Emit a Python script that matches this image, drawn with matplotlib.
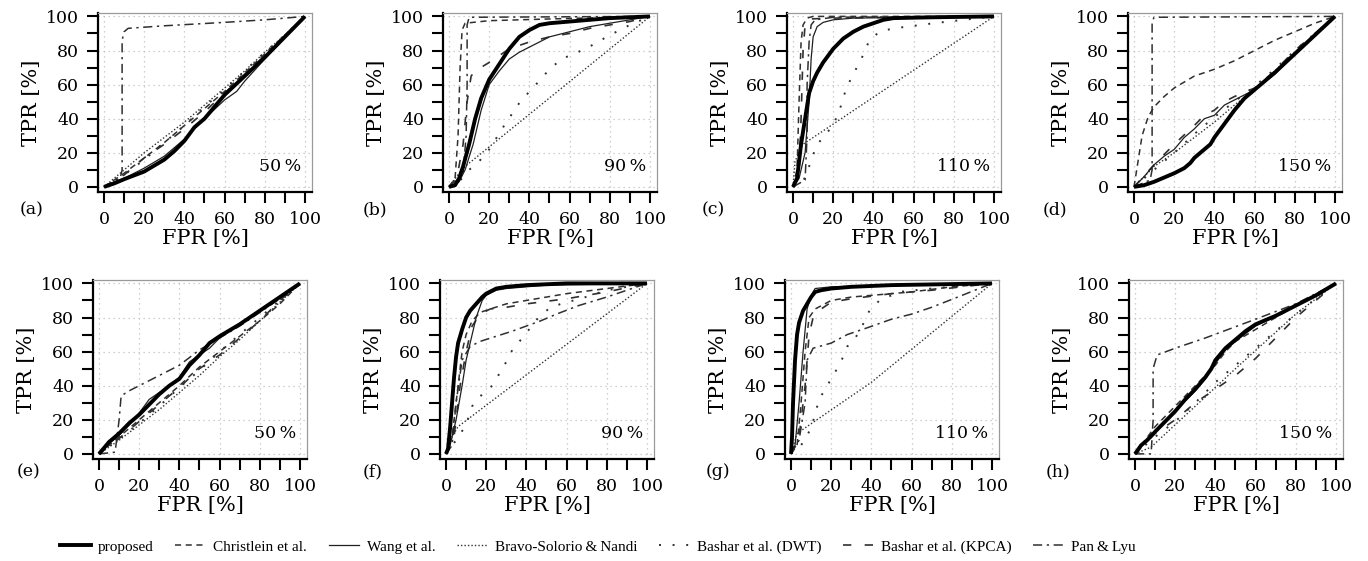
import matplotlib
matplotlib.use("Agg")
import matplotlib.pyplot as plt
from matplotlib.lines import Line2D

# ROC curves, points are (FPR %, TPR %)
# (a) 50 %
prop_a = [(0, 0), (5, 2), (10, 4.5), (20, 9), (30, 16), (35, 21), (40, 27), (45, 35), (50, 40), (55, 47), (60, 54), (70, 65), (80, 76), (90, 88), (100, 100)]
chr_a = [(0, 0), (5, 4), (10, 8), (20, 17), (30, 26), (40, 36), (50, 46), (60, 56), (70, 67), (80, 78), (90, 89), (100, 100)]
wang_a = [(0, 0), (5, 3), (10, 5), (20, 11), (30, 18), (40, 28), (50, 40), (60, 51), (66, 56), (70, 62), (80, 75), (90, 88), (100, 100)]
bravo_a = [(0, 0), (10, 10), (20, 20), (30, 29), (40, 38), (50, 48), (60, 58), (70, 68), (80, 79), (90, 89), (100, 100)]
dwt_a = [(0, 0), (10, 7), (20, 16), (30, 26), (40, 36), (50, 47), (60, 57), (70, 68), (80, 79), (90, 89), (100, 100)]
kpca_a = [(0, 0), (10, 7), (20, 17), (30, 25), (40, 34), (50, 44), (60, 55), (70, 66), (80, 77), (90, 88), (100, 100)]
pan_a = [(0, 0), (8, 5), (9, 10), (9, 86), (10, 91), (12, 93), (30, 94.5), (60, 96.5), (80, 98), (100, 100)]

# (b) 90 %
prop_b = [(0, 0), (3, 1), (5, 5), (7, 12), (10, 25), (13, 40), (16, 52), (20, 63), (25, 72), (30, 81), (35, 88), (40, 92), (45, 95), (50, 96), (60, 97), (70, 98), (80, 99), (100, 100)]
chr_b = [(0, 0), (3, 5), (4.5, 30), (5.5, 70), (6.5, 92), (8, 96), (20, 97.5), (50, 98.5), (100, 100)]
wang_b = [(0, 0), (5, 3), (8, 10), (12, 25), (16, 45), (20, 60), (25, 68), (30, 75), (35, 79), (40, 82), (50, 88), (60, 91), (70, 94), (80, 96), (90, 98), (100, 100)]
bravo_b = [(0, 0), (5, 8), (8, 12), (100, 100)]
dwt_b = [(0, 0), (5, 3), (10, 10), (15, 15), (20, 22), (28, 37), (36, 51), (41, 57), (50, 69), (56, 75), (68, 81), (80, 89), (90, 95), (100, 100)]
kpca_b = [(0, 0), (4, 6), (7, 25), (9, 50), (11, 65), (13, 68), (20, 73), (30, 81), (40, 85), (50, 88), (60, 90), (70, 93), (80, 95), (90, 97), (100, 100)]
pan_b = [(0, 0), (7, 8), (8.5, 30), (9, 60), (9, 95), (10, 99.5), (100, 100)]

# (c) 110 %
prop_c = [(0, 0), (2, 5), (4, 25), (6, 40), (8, 55), (10, 62), (12, 67), (15, 73), (20, 81), (25, 87), (30, 91), (35, 94), (40, 96), (45, 98), (50, 99), (70, 99.5), (100, 100)]
chr_c = [(0, 0), (2, 10), (3, 50), (4, 85), (5, 95), (7, 99), (10, 100), (100, 100)]
wang_c = [(0, 0), (3, 5), (6, 20), (8, 50), (9, 75), (10, 88), (12, 94), (15, 96.5), (20, 98), (30, 99), (100, 100)]
bravo_c = [(0, 0), (1, 15), (5, 25), (100, 100)]
dwt_c = [(0, 0), (5, 3), (8, 12), (11, 22), (14, 28), (20, 36), (24, 48), (26, 56), (29, 64), (34, 75), (38, 86), (43, 91), (50, 93), (57, 94), (70, 96), (85, 98), (100, 100)]
kpca_c = [(0, 0), (3, 8), (4, 40), (5, 80), (6, 95), (8, 98.5), (20, 99), (50, 99.5), (100, 100)]
pan_c = [(0, 0), (6, 4), (7, 30), (7, 60), (8, 85), (9, 95), (11, 98), (20, 99.5), (100, 100)]

# (d) 150 %
prop_d = [(0, 0), (5, 1), (10, 3), (20, 8), (25, 11), (28, 14), (30, 17), (35, 22), (38, 25), (40, 29), (45, 37), (50, 45), (55, 52), (60, 57), (70, 67), (80, 78), (90, 89), (100, 100)]
chr_d = [(0, 0), (2, 15), (4, 30), (7, 41), (10, 47), (15, 53), (20, 58), (30, 65), (40, 69), (50, 74), (60, 80), (70, 86), (80, 91), (90, 96), (100, 100)]
wang_d = [(0, 0), (5, 6), (10, 13), (15, 18), (20, 22), (25, 29), (30, 34), (35, 40), (40, 42), (45, 48), (50, 51), (60, 57), (70, 66), (80, 78), (90, 89), (100, 100)]
bravo_d = [(0, 0), (10, 12), (20, 20), (30, 29), (40, 38), (50, 48), (60, 57), (70, 68), (80, 79), (90, 89), (100, 100)]
dwt_d = [(0, 0), (10, 10), (20, 20), (30, 31), (40, 41), (50, 50), (60, 59), (70, 69), (80, 80), (90, 90), (100, 100)]
kpca_d = [(0, 0), (10, 13), (20, 25), (30, 36), (35, 42), (40, 45), (45, 50), (50, 53), (60, 58), (70, 68), (80, 80), (90, 90), (100, 100)]
pan_d = [(0, 0), (8, 4), (9, 10), (9, 97), (10, 99.5), (100, 100)]

# (e) 50 %
prop_e = [(0, 0), (5, 7), (10, 12), (15, 18), (20, 23), (25, 29), (30, 35), (35, 40), (40, 44), (45, 52), (50, 58), (55, 65), (60, 69), (70, 76), (80, 84), (90, 92), (100, 100)]
chr_e = [(0, 0), (10, 10), (20, 20), (30, 30), (40, 40), (50, 51), (60, 60), (70, 69), (80, 78), (90, 88), (100, 100)]
wang_e = [(0, 0), (5, 6), (10, 11), (15, 17), (20, 24), (25, 32), (30, 36), (35, 40), (40, 45), (45, 54), (50, 58), (55, 62), (60, 68), (70, 76), (80, 84), (90, 92), (100, 100)]
bravo_e = [(0, 0), (10, 8), (20, 17), (30, 26), (40, 36), (50, 46), (60, 57), (70, 67), (80, 78), (90, 89), (100, 100)]
dwt_e = [(0, 0), (10, 9), (20, 18), (30, 28), (40, 39), (50, 49), (60, 60), (70, 70), (80, 80), (90, 90), (100, 100)]
kpca_e = [(0, 0), (10, 9), (20, 19), (30, 29), (40, 39), (50, 50), (60, 58), (70, 68), (80, 78), (90, 90), (100, 100)]
pan_e = [(0, 0), (8, 1), (10, 20), (11, 34), (15, 37), (20, 40), (30, 46), (40, 52), (50, 61), (60, 68), (70, 75), (80, 83), (90, 91), (100, 100)]

# (f) 90 %
prop_f = [(0, 0), (1, 3), (2, 15), (3, 30), (4, 45), (5, 57), (6, 65), (8, 73), (10, 80), (12, 84), (15, 88), (18, 92), (20, 94), (25, 97), (30, 98), (40, 99), (60, 100), (100, 100)]
chr_f = [(0, 0), (3, 10), (6, 40), (8, 60), (10, 70), (13, 78), (17, 83), (22, 85), (30, 88), (40, 90), (50, 92), (60, 94), (80, 97), (100, 100)]
wang_f = [(0, 0), (2, 5), (5, 20), (8, 40), (10, 55), (13, 70), (15, 80), (18, 90), (20, 93), (25, 96), (30, 97), (50, 99), (100, 100)]
bravo_f = [(0, 0), (3, 10), (6, 16), (100, 100)]
dwt_f = [(0, 0), (5, 8), (10, 17), (13, 28), (18, 35), (23, 40), (26, 46), (30, 54), (33, 61), (38, 68), (42, 74), (46, 80), (52, 86), (60, 89), (67, 91), (72, 93), (80, 96), (90, 98), (100, 100)]
kpca_f = [(0, 0), (4, 10), (7, 40), (10, 60), (13, 75), (17, 82), (22, 85), (30, 86), (40, 88), (60, 91), (80, 95), (100, 100)]
pan_f = [(0, 0), (3, 5), (5, 30), (8, 55), (12, 63), (17, 66), (25, 69), (33, 72), (40, 75), (47, 78), (55, 82), (66, 87), (80, 92), (90, 96), (100, 100)]

# (g) 110 %
prop_g = [(0, 0), (0.5, 10), (1, 30), (2, 55), (3, 70), (4, 77), (6, 84), (8, 88), (10, 92), (12, 95), (15, 96), (20, 97), (30, 98), (50, 99), (100, 100)]
chr_g = [(0, 0), (3, 5), (5, 30), (7, 60), (9, 80), (12, 85), (20, 90), (30, 92), (40, 93), (60, 95), (80, 98), (100, 100)]
wang_g = [(0, 0), (2, 5), (4, 30), (6, 60), (8, 85), (10, 93), (12, 97), (20, 98), (100, 100)]
bravo_g = [(0, 0), (3, 12), (40, 42), (100, 100)]
dwt_g = [(0, 0), (5, 5), (10, 15), (14, 32), (18, 40), (22, 48), (26, 57), (28, 63), (32, 68), (35, 74), (39, 84), (44, 90), (54, 95), (70, 97), (85, 98.5), (100, 100)]
kpca_g = [(0, 0), (4, 10), (7, 40), (9, 70), (11, 80), (15, 85), (20, 89), (30, 91), (50, 94), (70, 96), (85, 98), (100, 100)]
pan_g = [(0, 0), (4, 8), (7, 30), (8, 55), (11, 62), (20, 65), (28, 70), (38, 74), (50, 79), (60, 82), (70, 86), (83, 92), (100, 100)]

# (h) 150 %
prop_h = [(0, 0), (3, 5), (6, 8), (10, 13), (15, 19), (20, 25), (25, 32), (30, 38), (35, 45), (38, 50), (40, 55), (45, 62), (50, 67), (55, 72), (60, 76), (70, 81), (80, 87), (90, 93), (100, 100)]
chr_h = [(0, 0), (5, 8), (10, 16), (20, 28), (30, 40), (40, 52), (45, 60), (50, 66), (60, 73), (70, 80), (80, 87), (90, 93), (100, 100)]
wang_h = [(0, 0), (5, 7), (10, 13), (20, 25), (25, 31), (30, 37), (35, 44), (40, 53), (45, 61), (50, 66), (60, 75), (70, 81), (80, 87), (90, 93), (100, 100)]
bravo_h = [(0, 0), (8, 4), (30, 28), (50, 50), (80, 82), (100, 100)]
dwt_h = [(0, 0), (10, 10), (20, 19), (30, 30), (40, 42), (50, 52), (60, 62), (70, 72), (80, 82), (90, 91), (100, 100)]
kpca_h = [(0, 0), (10, 12), (20, 20), (30, 30), (40, 38), (50, 46), (60, 56), (70, 68), (80, 80), (90, 90), (100, 100)]
pan_h = [(0, 0), (8, 0), (9, 20), (9, 50), (11, 58), (20, 62), (35, 68), (60, 79), (80, 88), (100, 100)]

methods = ["proposed", "Christlein et al.", "Wang et al.", "Bravo-Solorio\u2009&\u2009Nandi",
           "Bashar et al. (DWT)", "Bashar et al. (KPCA)", "Pan\u2009&\u2009Lyu"]
letters = ["(a)", "(b)", "(c)", "(d)", "(e)", "(f)", "(g)", "(h)"]
ratios = ["50", "90", "110", "150", "50", "90", "110", "150"]
curves = [
    [prop_a, chr_a, wang_a, bravo_a, dwt_a, kpca_a, pan_a],
    [prop_b, chr_b, wang_b, bravo_b, dwt_b, kpca_b, pan_b],
    [prop_c, chr_c, wang_c, bravo_c, dwt_c, kpca_c, pan_c],
    [prop_d, chr_d, wang_d, bravo_d, dwt_d, kpca_d, pan_d],
    [prop_e, chr_e, wang_e, bravo_e, dwt_e, kpca_e, pan_e],
    [prop_f, chr_f, wang_f, bravo_f, dwt_f, kpca_f, pan_f],
    [prop_g, chr_g, wang_g, bravo_g, dwt_g, kpca_g, pan_g],
    [prop_h, chr_h, wang_h, bravo_h, dwt_h, kpca_h, pan_h],
]

styles = [
    dict(color="black", lw=2.8, ls="-", zorder=5),
    dict(color="#303030", lw=1.1, dashes=(4, 3), zorder=4),
    dict(color="#202020", lw=0.9, ls="-", zorder=4),
    dict(color="#303030", lw=1.0, dashes=(1, 1.5), zorder=3),
    dict(color="#303030", lw=1.4, dashes=(1, 6), zorder=3),
    dict(color="#303030", lw=1.2, dashes=(5, 8), zorder=3),
    dict(color="#303030", lw=1.1, dashes=(6, 3, 1.5, 3), zorder=3),
]

W, H = 1368, 561
fig = plt.figure(figsize=(W / 100, H / 100), dpi=100)

# pixel position of x=0 for each panel and bottom edge of each row
x0_px = [104, 449, 793, 1134, 99, 446, 791, 1135]
row_bottom = [192, 459]
letter_px = [(32, 210), (375, 210), (713, 210), (1055, 210), (29, 472), (373, 472), (718, 472), (1058, 472)]
ax_w, ax_h = 214, 179
serif = "DejaVu Serif"

for i in range(8):
    left = x0_px[i] - 6
    bottom = row_bottom[i // 4]
    ax = fig.add_axes([left / W, (H - bottom) / H, ax_w / W, ax_h / H])
    ax.set_xlim(-3, 103.5)
    ax.set_ylim(-3, 102)

    for pts, st in zip(curves[i], styles):
        xs = [p[0] for p in pts]
        ys = [p[1] for p in pts]
        ax.plot(xs, ys, solid_capstyle="butt", dash_capstyle="butt", **st)

    ax.set_xticks(range(0, 101, 20))
    ax.set_yticks(range(0, 101, 20))
    ax.set_xticks(range(10, 100, 20), minor=True)
    ax.set_yticks(range(10, 100, 20), minor=True)
    ax.grid(True, which="major", color="#c0c0c0", lw=0.9, ls=(0, (1, 3)))
    ax.tick_params(which="both", direction="out", length=8, width=1.5, color="black",
                   labelsize=12.5, pad=5.5)
    for lab in ax.get_xticklabels() + ax.get_yticklabels():
        lab.set_fontfamily(serif)

    for side in ["top", "right"]:
        ax.spines[side].set_color("#9a9a9a")
        ax.spines[side].set_linewidth(0.9)
    for side in ["left", "bottom"]:
        ax.spines[side].set_color("black")
        ax.spines[side].set_linewidth(1.6)

    ax.set_xlabel("FPR [%]", fontsize=15, family=serif, labelpad=1)
    ax.set_ylabel("TPR [%]", fontsize=15, family=serif, labelpad=4)
    ax.text(98, 12, ratios[i] + "\u2009%", ha="right", va="center", fontsize=12.5, family=serif, zorder=6)

    lx, ly = letter_px[i]
    fig.text(lx / W, (H - ly) / H, letters[i], ha="center", va="center", fontsize=12.5, family=serif)

handles = [Line2D([], [], **{k: v for k, v in st.items() if k != "zorder"}) for st in styles]
fig.legend(handles, methods, loc="center", bbox_to_anchor=(598 / W, (H - 547) / H), ncol=7,
           frameon=False, prop={"family": "Liberation Serif", "size": 11},
           handlelength=2.0, handletextpad=0.5, columnspacing=1.4)

fig.savefig("out.png", dpi=100)
